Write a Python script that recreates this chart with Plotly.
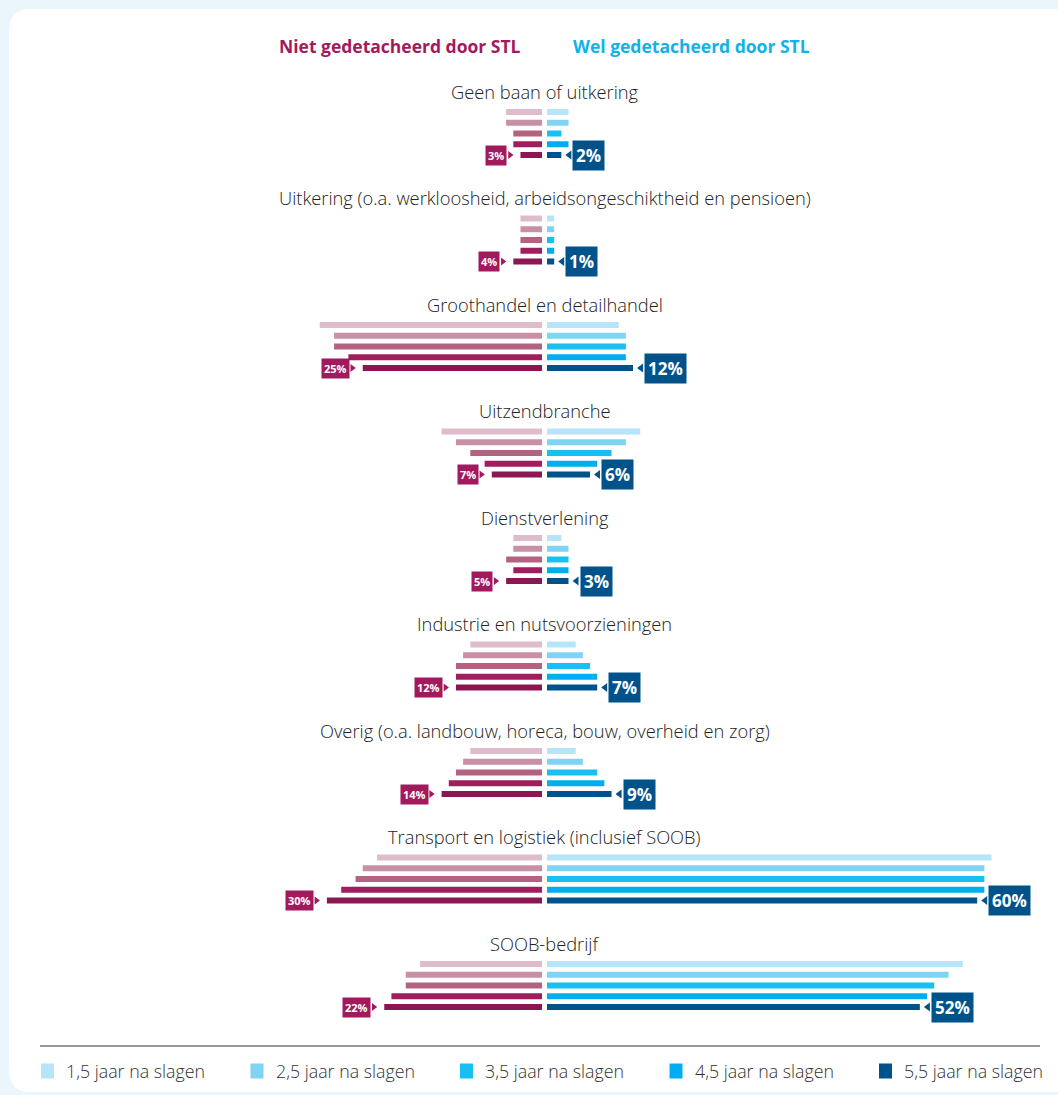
import plotly.graph_objects as go

# ---------------- data ----------------
categories = [
    "Geen baan of uitkering",
    "Uitkering (o.a. werkloosheid, arbeidsongeschiktheid en pensioen)",
    "Groothandel en detailhandel",
    "Uitzendbranche",
    "Dienstverlening",
    "Industrie en nutsvoorzieningen",
    "Overig (o.a. landbouw, horeca, bouw, overheid en zorg)",
    "Transport en logistiek (inclusief SOOB)",
    "SOOB-bedrijf",
]
periods = ["1,5 jaar na slagen", "2,5 jaar na slagen", "3,5 jaar na slagen",
           "4,5 jaar na slagen", "5,5 jaar na slagen"]

# Niet gedetacheerd door STL (per period, per category)
niet_15 = [5, 3, 31, 14, 4, 10, 10, 23, 17]
niet_25 = [5, 3, 29, 12, 4, 11, 11, 25, 19]
niet_35 = [4, 3, 29, 10, 5, 12, 12, 26, 19]
niet_45 = [4, 3, 27, 8, 4, 12, 13, 28, 21]
niet_55 = [3, 4, 25, 7, 5, 12, 14, 30, 22]

# Wel gedetacheerd door STL
wel_15 = [3, 1, 10, 13, 2, 4, 4, 62, 58]
wel_25 = [3, 1, 11, 11, 3, 5, 5, 61, 56]
wel_35 = [2, 1, 11, 9, 3, 6, 7, 61, 54]
wel_45 = [3, 1, 11, 7, 3, 7, 8, 61, 53]
wel_55 = [2, 1, 12, 6, 3, 7, 9, 60, 52]

niet = [niet_15, niet_25, niet_35, niet_45, niet_55]
wel = [wel_15, wel_25, wel_35, wel_45, wel_55]

niet_colors = ["#dfbccb", "#c88fa5", "#b56282", "#a11d5e", "#8a1652"]
wel_colors = ["#b6e4f8", "#7fd3f5", "#17c0f1", "#00aeef", "#00538a"]
MAGENTA = "#a3195e"
CYAN = "#12b2e8"
DARKBLUE = "#00538a"

# ---------------- layout geometry ----------------
W, H = 1058, 1095
PX_PER_UNIT = 7.17          # pixels per percentage point
CENTER_PX = 544.5
GAP = 0.35                  # half gap between left and right bars (units)
TITLE_Y0 = 91
GROUP_PITCH = 106.5
BAR_OFFSET = 21
BAR_STEP = 10.75
BAR_H = 6

LEG_X0 = 41                 # legend layout (pixels)
LEG_PITCH = 209.5
LEG_Y = 1071

x_range = [-CENTER_PX / PX_PER_UNIT, (W - CENTER_PX) / PX_PER_UNIT]
FONT = "Open Sans"

fig = go.Figure()

for j, p in enumerate(periods):
    ys = [TITLE_Y0 + i * GROUP_PITCH + BAR_OFFSET + j * BAR_STEP for i in range(len(categories))]
    fig.add_trace(go.Bar(
        y=ys, x=[-v for v in niet[j]], base=-GAP, orientation="h",
        width=BAR_H, marker=dict(color=niet_colors[j], line_width=0),
        showlegend=False, hoverinfo="skip",
    ))
    fig.add_trace(go.Bar(
        y=ys, x=wel[j], base=GAP, orientation="h",
        width=BAR_H, marker=dict(color=wel_colors[j], line_width=0),
        name=p, showlegend=False, hoverinfo="skip",
    ))

# pointer triangles next to the value labels
last_ys = [TITLE_Y0 + i * GROUP_PITCH + BAR_OFFSET + 4 * BAR_STEP for i in range(len(categories))]
fig.add_trace(go.Scatter(
    x=[-(v + GAP) - 10.5 / PX_PER_UNIT for v in niet_55], y=last_ys, mode="markers",
    marker=dict(symbol="triangle-right", size=7, color=MAGENTA, line_width=0),
    showlegend=False, hoverinfo="skip",
))
fig.add_trace(go.Scatter(
    x=[(v + GAP) + 8 / PX_PER_UNIT for v in wel_55], y=last_ys, mode="markers",
    marker=dict(symbol="triangle-left", size=8, color=DARKBLUE, line_width=0),
    showlegend=False, hoverinfo="skip",
))

annotations = []
for i, cat in enumerate(categories):
    ty = TITLE_Y0 + i * GROUP_PITCH
    annotations.append(dict(
        x=0, y=ty, xref="x", yref="y", text=cat, showarrow=False,
        font=dict(family=FONT, size=18.3, color="#222222", weight=300),
        xanchor="center", yanchor="middle",
    ))
    by = last_ys[i]
    lv = niet_55[i]
    rv = wel_55[i]
    annotations.append(dict(
        x=-(lv + GAP), y=by, xref="x", yref="y", text=f"<b>{lv}%</b>",
        showarrow=False, xshift=-13,
        xanchor="right", yanchor="middle",
        font=dict(family=FONT, size=11, color="white"),
        bgcolor=MAGENTA, borderpad=2,
    ))
    annotations.append(dict(
        x=rv + GAP, y=by, xref="x", yref="y", text=f"<b>{rv}%</b>",
        showarrow=False, xshift=11,
        xanchor="left", yanchor="middle",
        font=dict(family=FONT, size=17, color="white"),
        bgcolor=DARKBLUE, borderpad=3,
    ))

# headers
annotations.append(dict(x=400 / W, y=1 - 46 / H, xref="paper", yref="paper",
                        text="<b>Niet gedetacheerd door STL</b>", showarrow=False,
                        font=dict(family=FONT, size=17.5, color=MAGENTA),
                        xanchor="center", yanchor="middle"))
annotations.append(dict(x=691 / W, y=1 - 46 / H, xref="paper", yref="paper",
                        text="<b>Wel gedetacheerd door STL</b>", showarrow=False,
                        font=dict(family=FONT, size=17.5, color=CYAN),
                        xanchor="center", yanchor="middle"))

# card background (rounded)
r = 22
x0, y0, x1, y1 = 9, 9, 1080, 1092
card_path = (f"M {x0+r},{y0} L {x1},{y0} L {x1},{y1} L {x0+r},{y1} "
             f"Q {x0},{y1} {x0},{y1-r} L {x0},{y0+r} Q {x0},{y0} {x0+r},{y0} Z")

shapes = [
    dict(type="path", xref="paper", yref="paper", layer="below",
         path=" ".join(
             (f"{float(t.split(',')[0])/W},{1-float(t.split(',')[1])/H}" if "," in t else t)
             for t in card_path.split(" ")),
         fillcolor="white", line_width=0),
    dict(type="line", xref="paper", yref="paper",
         x0=40 / W, x1=1040 / W, y0=1 - 1046 / H, y1=1 - 1046 / H,
         line=dict(color="#333333", width=1)),
]

# legend (drawn manually for exact spacing)
for k, p in enumerate(periods):
    lx = LEG_X0 + k * LEG_PITCH
    shapes.append(dict(
        type="rect", xref="paper", yref="paper",
        x0=lx / W, x1=(lx + 13) / W,
        y0=1 - (LEG_Y + 7.5) / H, y1=1 - (LEG_Y - 7.5) / H,
        fillcolor=wel_colors[k], line_width=0,
    ))
    annotations.append(dict(
        x=(lx + 23) / W, y=1 - LEG_Y / H, xref="paper", yref="paper",
        text=p, showarrow=False, xanchor="left", yanchor="middle",
        font=dict(family=FONT, size=17.8, color="#333333", weight=300),
    ))

fig.update_layout(
    width=W, height=H,
    margin=dict(l=0, r=0, t=0, b=0),
    paper_bgcolor="#eaf5fc",
    plot_bgcolor="rgba(0,0,0,0)",
    barmode="overlay",
    xaxis=dict(range=x_range, visible=False, fixedrange=True),
    yaxis=dict(range=[H, 0], visible=False, fixedrange=True),
    annotations=annotations,
    shapes=shapes,
    showlegend=False,
)

fig.write_html("out.html", config={"displayModeBar": False},
               post_script="document.body.style.margin='0px';")
